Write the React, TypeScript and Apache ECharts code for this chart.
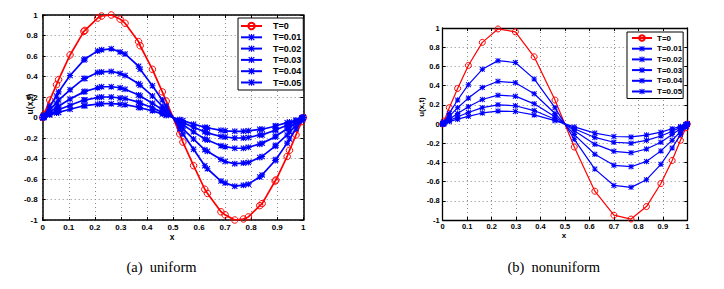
import React, { useEffect, useRef } from 'react';
import * as echarts from 'echarts';

const SERIES_NAMES = ['T=0', 'T=0.01', 'T=0.02', 'T=0.03', 'T=0.04', 'T=0.05'];
const X_TICK_LABELS = ['0', '0.1', '0.2', '0.3', '0.4', '0.5', '0.6', '0.7', '0.8', '0.9', '1'];
const Y_TICK_LABELS = ['-1', '-0.8', '-0.6', '-0.4', '-0.2', '0', '0.2', '0.4', '0.6', '0.8', '1'];
const CAPTIONS = ['(a)\u00a0\u00a0uniform', '(b)\u00a0\u00a0nonuniform'];
const Y_NAME = 'u(x,t)';
const X_NAME = 'x';

// (a) uniform
const X_UNI = [0, 0.005, 0.027, 0.053, 0.061, 0.105, 0.158, 0.162, 0.211, 0.226, 0.263, 0.297, 0.316, 0.368, 0.374, 0.421, 0.459, 0.474, 0.526, 0.538, 0.579, 0.622, 0.632, 0.684, 0.7, 0.737, 0.77, 0.789, 0.833, 0.842, 0.892, 0.895, 0.938, 0.947, 0.972, 0.994, 1];
const UNI_T0 = [0, 0.03, 0.17, 0.32, 0.37, 0.61, 0.84, 0.85, 0.97, 0.99, 1.0, 0.96, 0.92, 0.74, 0.7, 0.47, 0.25, 0.16, -0.16, -0.24, -0.47, -0.7, -0.74, -0.92, -0.95, -1.0, -0.99, -0.97, -0.86, -0.84, -0.62, -0.61, -0.38, -0.32, -0.17, -0.04, 0];
const UNI_T1 = [0, 0.02, 0.11, 0.21, 0.25, 0.41, 0.56, 0.57, 0.65, 0.66, 0.67, 0.64, 0.62, 0.5, 0.47, 0.31, 0.17, 0.11, -0.11, -0.16, -0.31, -0.47, -0.5, -0.62, -0.64, -0.67, -0.66, -0.65, -0.58, -0.56, -0.42, -0.41, -0.25, -0.21, -0.11, -0.03, 0];
const UNI_T2 = [0, 0.01, 0.08, 0.14, 0.17, 0.27, 0.38, 0.38, 0.44, 0.445, 0.45, 0.43, 0.41, 0.33, 0.315, 0.21, 0.11, 0.07, -0.07, -0.11, -0.21, -0.315, -0.33, -0.41, -0.43, -0.45, -0.445, -0.44, -0.39, -0.38, -0.28, -0.27, -0.17, -0.14, -0.08, -0.02, 0];
const UNI_T3 = [0, 0.01, 0.05, 0.1, 0.11, 0.18, 0.25, 0.255, 0.29, 0.3, 0.3, 0.29, 0.275, 0.22, 0.21, 0.14, 0.075, 0.05, -0.05, -0.07, -0.14, -0.21, -0.22, -0.275, -0.285, -0.3, -0.3, -0.29, -0.26, -0.25, -0.19, -0.18, -0.11, -0.1, -0.05, -0.01, 0];
const UNI_T4 = [0, 0.01, 0.035, 0.065, 0.075, 0.12, 0.17, 0.17, 0.195, 0.2, 0.2, 0.19, 0.185, 0.15, 0.14, 0.095, 0.05, 0.03, -0.03, -0.05, -0.095, -0.14, -0.15, -0.185, -0.19, -0.2, -0.2, -0.195, -0.17, -0.17, -0.125, -0.12, -0.075, -0.065, -0.035, -0.01, 0];
const UNI_T5 = [0, 0, 0.025, 0.045, 0.05, 0.08, 0.115, 0.115, 0.13, 0.135, 0.135, 0.13, 0.125, 0.1, 0.095, 0.065, 0.035, 0.02, -0.02, -0.03, -0.065, -0.095, -0.1, -0.125, -0.13, -0.135, -0.135, -0.13, -0.115, -0.115, -0.085, -0.08, -0.05, -0.045, -0.025, -0.005, 0];

// (b) nonuniform
const X_NON = [0, 0.005, 0.027, 0.061, 0.105, 0.162, 0.226, 0.297, 0.374, 0.459, 0.538, 0.622, 0.7, 0.77, 0.833, 0.892, 0.938, 0.972, 0.994, 1];
const NON_T0 = [0, 0.03, 0.17, 0.37, 0.61, 0.85, 0.99, 0.96, 0.7, 0.25, -0.24, -0.7, -0.95, -0.99, -0.86, -0.62, -0.38, -0.17, -0.04, 0];
const NON_T1 = [0, 0.02, 0.11, 0.25, 0.41, 0.57, 0.66, 0.64, 0.47, 0.17, -0.16, -0.47, -0.64, -0.66, -0.58, -0.42, -0.25, -0.11, -0.03, 0];
const NON_T2 = [0, 0.01, 0.08, 0.17, 0.27, 0.38, 0.445, 0.43, 0.315, 0.11, -0.11, -0.315, -0.43, -0.445, -0.39, -0.28, -0.17, -0.08, -0.02, 0];
const NON_T3 = [0, 0.01, 0.05, 0.11, 0.18, 0.255, 0.3, 0.29, 0.21, 0.075, -0.07, -0.21, -0.285, -0.3, -0.26, -0.19, -0.11, -0.05, -0.01, 0];
const NON_T4 = [0, 0.01, 0.035, 0.075, 0.12, 0.17, 0.2, 0.19, 0.14, 0.05, -0.05, -0.14, -0.19, -0.2, -0.17, -0.125, -0.075, -0.035, -0.01, 0];
const NON_T5 = [0, 0, 0.025, 0.05, 0.08, 0.115, 0.135, 0.13, 0.095, 0.035, -0.03, -0.095, -0.13, -0.135, -0.115, -0.085, -0.05, -0.025, -0.005, 0];

const UNI_SETS = [UNI_T0, UNI_T1, UNI_T2, UNI_T3, UNI_T4, UNI_T5];
const NON_SETS = [NON_T0, NON_T1, NON_T2, NON_T3, NON_T4, NON_T5];

const STAR =
  'path://M0,4.1L10,4.1L10,5.9L0,5.9Z M4.1,0L5.9,0L5.9,10L4.1,10Z M1.3,0L10,8.7L8.7,10L0,1.3Z M8.7,0L10,1.3L1.3,10L0,8.7Z';

const RED = '#ff0000';
const BLUE = '#0000ff';
const FONT = 'Liberation Sans, Arial, sans-serif';

function makeSeries(xs: number[], sets: number[][], g: number, big: boolean) {
  return sets.map((ys, k) => {
    const red = k === 0;
    return {
      type: 'line',
      name: SERIES_NAMES[k],
      xAxisIndex: g * 2,
      yAxisIndex: g * 2,
      data: xs.map((x, i) => [x, ys[i]]),
      symbol: red ? 'circle' : STAR,
      symbolKeepAspect: true,
      symbolSize: red ? (big ? 6.5 : 6) : big ? 6 : 5.5,
      showSymbol: true,
      showAllSymbol: true,
      clip: false,
      lineStyle: { color: red ? RED : BLUE, width: big ? 1.7 : 1.2 },
      itemStyle: red
        ? { color: 'rgba(255,255,255,0)', borderColor: RED, borderWidth: 1 }
        : { color: BLUE, borderWidth: 0 },
      emphasis: { disabled: true },
      z: red ? 2 : 3,
    };
  });
}

function makeAxes(g: number, big: boolean) {
  const lw = big ? 1.5 : 1.3;
  const fs = big ? 8 : 7.5;
  const tick = { show: true, inside: true, length: 3, lineStyle: { color: '#000', width: 1 } };
  const split = { show: true, lineStyle: { type: [1, 3], color: '#8a8a8a', width: 1 } };
  const xs = [
    {
      type: 'value', gridIndex: g, min: 0, max: 1, interval: 0.1, position: 'bottom',
      axisLine: { show: true, onZero: false, lineStyle: { color: '#000', width: lw } },
      axisTick: tick,
      splitLine: split,
      axisLabel: {
        show: true, margin: big ? 3 : 2, color: '#000', fontFamily: FONT, fontWeight: 'bold', fontSize: fs,
        formatter: (v: number) => X_TICK_LABELS[Math.round(v * 10)],
      },
    },
    {
      type: 'value', gridIndex: g, min: 0, max: 1, interval: 0.1, position: 'top',
      axisLine: { show: true, onZero: false, lineStyle: { color: '#000', width: lw } },
      axisTick: tick, splitLine: { show: false }, axisLabel: { show: false },
    },
  ];
  const ys = [
    {
      type: 'value', gridIndex: g, min: -1, max: 1, interval: 0.2, position: 'left',
      axisLine: { show: true, onZero: false, lineStyle: { color: '#000', width: lw } },
      axisTick: tick,
      splitLine: split,
      axisLabel: {
        show: true, margin: big ? 5 : 3, color: '#000', fontFamily: FONT, fontWeight: 'bold', fontSize: fs,
        formatter: (v: number) => Y_TICK_LABELS[Math.round((v + 1) * 5)],
      },
    },
    {
      type: 'value', gridIndex: g, min: -1, max: 1, interval: 0.2, position: 'right',
      axisLine: { show: true, onZero: false, lineStyle: { color: '#000', width: lw } },
      axisTick: tick, splitLine: { show: false }, axisLabel: { show: false },
    },
  ];
  return { xs, ys };
}

export default function App() {
  const ref = useRef<HTMLDivElement>(null);
  useEffect(() => {
    if (!ref.current) return;
    const chart = echarts.init(ref.current, null, { renderer: 'svg' });
    const a0 = makeAxes(0, true);
    const a1 = makeAxes(1, false);
    const legendBase = {
      show: true,
      orient: 'vertical',
      data: SERIES_NAMES,
      borderColor: '#000',
      borderWidth: 1,
      backgroundColor: '#fff',
      selectedMode: false,
      borderRadius: 0,
    };
    const option = {
      animation: false,
      backgroundColor: '#fff',
      grid: [
        { left: 42.7, top: 15, width: 260.6, height: 205, containLabel: false },
        { left: 442.7, top: 28, width: 244.6, height: 192, containLabel: false },
      ],
      xAxis: [...a0.xs, ...a1.xs],
      yAxis: [...a0.ys, ...a1.ys],
      legend: [
        {
          ...legendBase,
          left: 238, top: 18,
          itemWidth: 21, itemHeight: 8, itemGap: 2.3,
          padding: [3.5, 2, 3, 2],
          textStyle: { fontFamily: FONT, fontWeight: 'bold', fontSize: 9, color: '#000', padding: [0, 0, 0, 6] },
        },
        {
          ...legendBase,
          left: 627, top: 32,
          itemWidth: 20, itemHeight: 7, itemGap: 2.7,
          padding: [2, 1, 3, 4],
          textStyle: { fontFamily: FONT, fontWeight: 'bold', fontSize: 8, color: '#000' },
        },
      ],
      graphic: [
        { type: 'text', x: 161.5, y: 267, style: { text: CAPTIONS[0], font: '14.5px "Liberation Serif", "Times New Roman", serif', fill: '#000', align: 'center', verticalAlign: 'middle' } },
        { type: 'text', x: 553.7, y: 267, style: { text: CAPTIONS[1], font: '14.5px "Liberation Serif", "Times New Roman", serif', fill: '#000', align: 'center', verticalAlign: 'middle' } },
        { type: 'text', x: 30, y: 104, rotation: Math.PI / 2, style: { text: Y_NAME, font: 'bold 8.5px "Liberation Sans", Arial, sans-serif', fill: '#000', align: 'center', verticalAlign: 'middle' } },
        { type: 'text', x: 421, y: 107, rotation: Math.PI / 2, style: { text: Y_NAME, font: 'bold 8px "Liberation Sans", Arial, sans-serif', fill: '#000', align: 'center', verticalAlign: 'middle' } },
        { type: 'text', x: 172, y: 236.5, style: { text: X_NAME, font: 'bold 8.5px "Liberation Sans", Arial, sans-serif', fill: '#000', align: 'center', verticalAlign: 'middle' } },
        { type: 'text', x: 564, y: 235, style: { text: X_NAME, font: 'bold 8px "Liberation Sans", Arial, sans-serif', fill: '#000', align: 'center', verticalAlign: 'middle' } },
      ],
      series: [...makeSeries(X_UNI, UNI_SETS, 0, true), ...makeSeries(X_NON, NON_SETS, 1, false)],
    };
    chart.setOption(option as any);
    return () => chart.dispose();
  }, []);
  return (
    <div
      ref={ref}
      style={{ position: 'absolute', left: 0, top: 0, width: 724, height: 289, background: '#fff' }}
    />
  );
}
